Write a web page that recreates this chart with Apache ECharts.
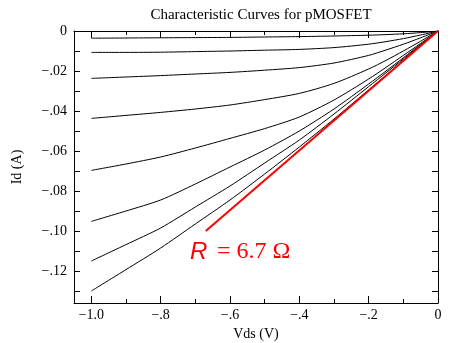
<!DOCTYPE html>
<html>
<head>
<meta charset="utf-8">
<script src="https://cdn.jsdelivr.net/npm/echarts@6/dist/echarts.min.js"></script>
<style>
  html, body { margin: 0; padding: 0; background: #fff; }
  #chart { width: 453px; height: 343px; }
</style>
</head>
<body>
<div id="chart"></div>
<script>
// Drain-source voltage samples (V)
const vds = [-1.0, -0.9, -0.8, -0.7, -0.6, -0.5, -0.4, -0.3, -0.2, -0.15, -0.1, -0.05, 0];

// Drain current (A) for each gate voltage step, smallest |Vgs| first
const id1 = [-0.0036, -0.0035, -0.0034, -0.0033, -0.0032, -0.0030, -0.0028, -0.0025, -0.0021, -0.0018, -0.0014, -0.0008, 0];
const id2 = [-0.0107, -0.0107, -0.0106, -0.0103, -0.0100, -0.0096, -0.0092, -0.0083, -0.0066, -0.0053, -0.0038, -0.0020, 0];
const id3 = [-0.0237, -0.0230, -0.0223, -0.0215, -0.0207, -0.0196, -0.0183, -0.0160, -0.0122, -0.0095, -0.0066, -0.0034, 0];
const id4 = [-0.0437, -0.0422, -0.0407, -0.0390, -0.0370, -0.0343, -0.0312, -0.0262, -0.0190, -0.0147, -0.0100, -0.0051, 0];
const id5 = [-0.0697, -0.0665, -0.0630, -0.0585, -0.0537, -0.0488, -0.0430, -0.0345, -0.0240, -0.0182, -0.0122, -0.0062, 0];
const id6 = [-0.0952, -0.0900, -0.0845, -0.0765, -0.0680, -0.0595, -0.0500, -0.0390, -0.0265, -0.0200, -0.0134, -0.0067, 0];
const id7 = [-0.1150, -0.1068, -0.0985, -0.0880, -0.0775, -0.0660, -0.0545, -0.0415, -0.0278, -0.0209, -0.0140, -0.0070, 0];
const id8 = [-0.1300, -0.1193, -0.1085, -0.0965, -0.0845, -0.0715, -0.0580, -0.0440, -0.0294, -0.0221, -0.0147, -0.0074, 0];
const curves = [id1, id2, id3, id4, id5, id6, id7, id8];

// On-resistance fit line: I = V / R
const resistance = 6.7;
const fitVds = [-0.67, 0];

// Axis ticks and their labels
const xTicks = [-1.0, -0.8, -0.6, -0.4, -0.2, 0];
const xTickLabels = ['\u22121.0', '\u2212.8', '\u2212.6', '\u2212.4', '\u2212.2', '0'];
const xMinorTicks = [-0.9, -0.7, -0.5, -0.3, -0.1];
const yTicks = [-0.13, -0.12, -0.11, -0.10, -0.09, -0.08, -0.07, -0.06, -0.05, -0.04, -0.03, -0.02, -0.01, 0];
const yLabelTicks = [-0.12, -0.10, -0.08, -0.06, -0.04, -0.02, 0];
const yTickLabels = ['\u2212.12', '\u2212.10', '\u2212.08', '\u2212.06', '\u2212.04', '\u2212.02', '0'];

const X_MIN = -1.05, X_MAX = 0, Y_MIN = -0.136, Y_MAX = 0;
const SERIF = '"Liberation Serif", "Times New Roman", serif';

function lookup(vals, labels) {
  return function (v) {
    for (let i = 0; i < vals.length; i++) {
      if (Math.abs(vals[i] - v) < 1e-6) return labels[i];
    }
    return '';
  };
}

const lineStyleAxis = { color: '#000', width: 1 };

function xAxisDef(pos, ticks, len, showLine, showLabel) {
  return {
    type: 'value', min: X_MIN, max: X_MAX, position: pos,
    axisLine: { show: showLine, onZero: false, lineStyle: lineStyleAxis },
    axisTick: { show: true, inside: true, length: len, customValues: ticks, lineStyle: lineStyleAxis },
    axisLabel: showLabel ? {
      show: true, customValues: xTicks, formatter: lookup(xTicks, xTickLabels),
      color: '#000', fontFamily: SERIF, fontSize: 14, margin: 5
    } : { show: false },
    splitLine: { show: false },
    name: showLabel ? 'Vds (V)' : '',
    nameLocation: 'middle', nameGap: 20,
    nameTextStyle: { color: '#000', fontFamily: SERIF, fontSize: 14 }
  };
}

function yAxisDef(pos, showLabel) {
  return {
    type: 'value', min: Y_MIN, max: Y_MAX, position: pos,
    axisLine: { show: true, onZero: false, lineStyle: lineStyleAxis },
    axisTick: { show: true, inside: true, length: 6, customValues: yTicks, lineStyle: lineStyleAxis },
    axisLabel: showLabel ? {
      show: true, customValues: yLabelTicks, formatter: lookup(yLabelTicks, yTickLabels),
      color: '#000', fontFamily: SERIF, fontSize: 14, margin: 7
    } : { show: false },
    splitLine: { show: false },
    name: showLabel ? 'Id (A)' : '',
    nameLocation: 'middle', nameGap: 50,
    nameTextStyle: { color: '#000', fontFamily: SERIF, fontSize: 14 }
  };
}

const series = curves.map(function (c, k) {
  return {
    type: 'line', name: 'Vg' + (k + 1), xAxisIndex: 0, yAxisIndex: 0,
    data: vds.map(function (v, i) { return [v, c[i]]; }),
    showSymbol: false, symbol: 'none', smooth: 0.25,
    lineStyle: { color: '#000', width: 1 }, z: 2, silent: true
  };
});
series.push({
  type: 'line', name: 'fit', xAxisIndex: 0, yAxisIndex: 0,
  data: fitVds.map(function (v) { return [v, v / resistance]; }),
  showSymbol: false, symbol: 'none',
  lineStyle: { color: '#ff0000', width: 2 }, z: 3, silent: true
});

const chart = echarts.init(document.getElementById('chart'), null, { renderer: 'canvas' });
chart.setOption({
  animation: false,
  backgroundColor: '#fff',
  title: {
    text: 'Characteristic Curves for pMOSFET',
    left: 256, top: 3, textAlign: 'center',
    textStyle: { color: '#000', fontFamily: SERIF, fontSize: 15, fontWeight: 'normal' }
  },
  grid: { left: 74, right: 15, top: 31, bottom: 40, containLabel: false, outerBoundsMode: 'none' },
  xAxis: [
    xAxisDef('bottom', xTicks, 7, true, true),
    xAxisDef('bottom', xMinorTicks, 4, false, false),
    xAxisDef('top', xTicks, 7, true, false),
    xAxisDef('top', xMinorTicks, 4, false, false)
  ],
  yAxis: [
    yAxisDef('left', true),
    yAxisDef('right', false)
  ],
  series: series,
  graphic: [
    {
      type: 'text', x: 190, y: 252, z: 10,
      style: {
        text: 'R', fill: '#ff0000', textVerticalAlign: 'middle',
        font: 'italic 24px "Liberation Sans", Arial, sans-serif'
      }
    },
    {
      type: 'text', x: 217, y: 252, z: 10,
      style: {
        text: '= ' + resistance.toFixed(1) + ' \u03A9', fill: '#ff0000', textVerticalAlign: 'middle',
        font: '24px "Liberation Serif", "Times New Roman", serif'
      }
    }
  ]
});
</script>
</body>
</html>
